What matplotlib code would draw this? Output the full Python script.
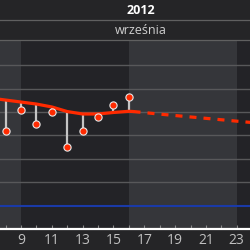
import matplotlib
matplotlib.use("Agg")
import matplotlib.pyplot as plt
import numpy as np

# Data (arbitrary temperature-like units; gridline every 2 units, blue line at 0)
obs_days = [8, 9, 10, 11, 12, 13, 14, 15, 16]
obs_vals = [6.4, 8.2, 7.0, 8.0, 5.0, 6.4, 7.6, 8.6, 9.25]
trend_days = [7.6, 8, 9, 10, 11, 12, 13, 14, 15, 16, 16.3]
trend_vals = [9.09, 9.02, 8.85, 8.68, 8.43, 8.04, 7.83, 7.83, 7.96, 8.06, 8.04]
fc_days = [16.3, 18, 20, 22, 24]
fc_vals = [8.04, 7.82, 7.58, 7.34, 7.10]
tick_days = [9, 11, 13, 15, 17, 19, 21, 23]
year_label = "2012"
month_label = "września"

plt.rcParams['font.family'] = ['Open Sans', 'DejaVu Sans']

fig = plt.figure(figsize=(2.5, 2.5), dpi=100, facecolor='#252527')
ax = fig.add_axes([0, 0.0828, 1, 0.7544])
ax.set_facecolor('#232327')
ax.set_xlim(7.637, 23.86)
ax.set_ylim(-2.0, 14.08)

# week bands
for start in [2, 16]:
    ax.axvspan(start, start + 7, color='#35363a', lw=0, zorder=0)

# gridlines
for g in [2, 4, 6, 8, 10, 12]:
    ax.axhline(g, color='#58585a', lw=1.0, zorder=1)
ax.axhline(0, color='#1a3aa8', lw=1.5, zorder=1)

# stems
trend_at = np.interp(obs_days, trend_days, trend_vals)
for d, v, t in zip(obs_days, obs_vals, trend_at):
    ax.plot([d, d], [v, t], color='#c4c4c4', lw=1.6, zorder=2, solid_capstyle='butt')

ax.plot(trend_days, trend_vals, color='#ff2a00', lw=2.3, zorder=3, solid_capstyle='round')
ax.plot(fc_days, fc_vals, color='#ff2a00', lw=2.3, zorder=3, dashes=(2.2, 2.2))
ax.scatter(obs_days, obs_vals, s=27, c='#ff2a00', edgecolors='#e8e8e8', linewidths=0.8, zorder=4)

for s in ['top', 'left', 'right']:
    ax.spines[s].set_visible(False)
ax.spines['bottom'].set_color('white')
ax.spines['bottom'].set_linewidth(1.6)
ax.set_yticks([])
ax.set_xticks(tick_days)
ax.set_xticklabels([str(d) for d in tick_days])
ax.set_xticks(range(8, 24), minor=True)
ax.tick_params(axis='x', which='both', direction='in', length=3, width=0.8,
               color='#8a8a8a', labelsize=10, labelcolor='#c0c0c0', pad=3)

# header
fig.text(141 / 250, 1 - 10 / 250, year_label, ha='center', va='center',
         color='white', fontsize=9, fontweight='bold')
fig.text(141 / 250, 1 - 31 / 250, month_label, ha='center', va='center',
         color='#cfcfcf', fontsize=9)
for yy in [20, 40]:
    fig.add_artist(plt.Line2D([0, 1], [1 - yy / 250, 1 - yy / 250],
                              color='#606060', lw=0.9, transform=fig.transFigure))

fig.savefig('out.png', dpi=100, facecolor=fig.get_facecolor())
